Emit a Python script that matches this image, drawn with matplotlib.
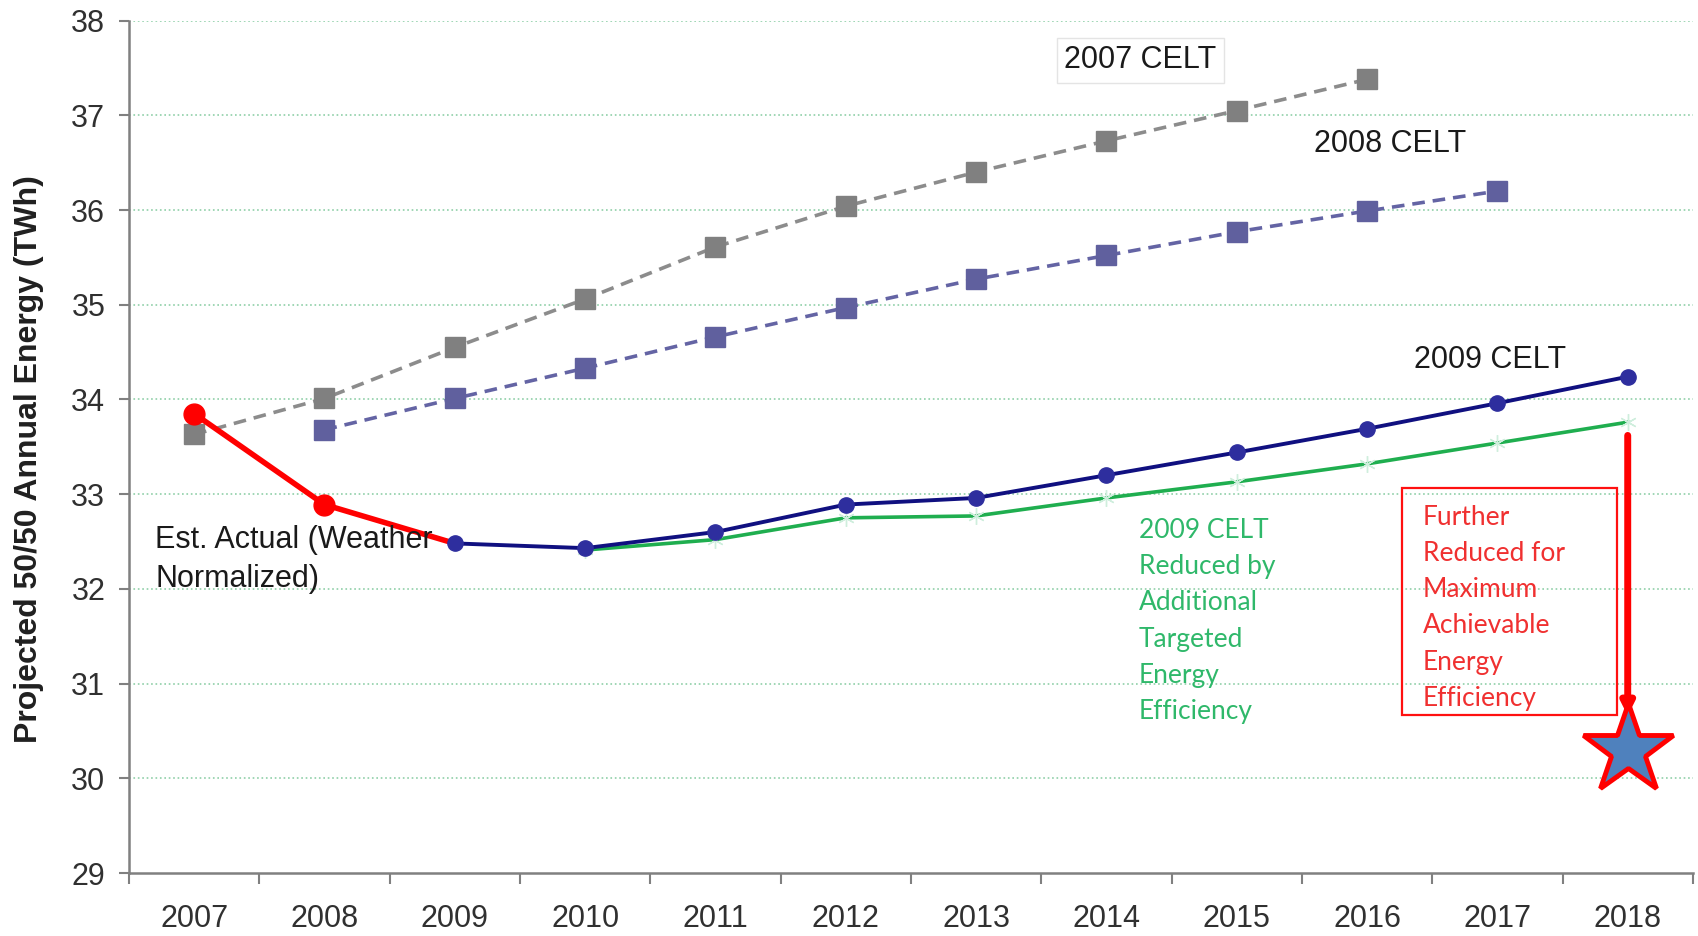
import numpy as np
import matplotlib
matplotlib.use("Agg")
import matplotlib.pyplot as plt
from matplotlib.patches import Rectangle

# Data
years = ["2007", "2008", "2009", "2010", "2011", "2012",
         "2013", "2014", "2015", "2016", "2017", "2018"]

celt2007 = [33.63, 34.01, 34.55, 35.06, 35.61, 36.04, 36.40, 36.73, 37.05, 37.38]
celt2008 = [33.68, 34.01, 34.33, 34.66, 34.97, 35.27, 35.52, 35.77, 35.99, 36.20]
celt2009 = [32.48, 32.43, 32.60, 32.89, 32.96, 33.20, 33.44, 33.69, 33.96, 34.24]
celt2009_ee = [32.41, 32.52, 32.75, 32.77, 32.96, 33.13, 33.32, 33.54, 33.76]
est_actual = [33.85, 32.89, 32.48]
max_ee_2018 = 30.30

x = np.arange(len(years))

plt.rcParams['font.family'] = ['Liberation Sans', 'DejaVu Sans']

fig = plt.figure(figsize=(16.99, 9.36), dpi=100)
ax = fig.add_axes([0.0759, 0.0673, 0.9205, 0.9107])

# grid
for yv in range(30, 39):
    ax.axhline(yv, color='#8fcfa8', linestyle=':', linewidth=1.2, zorder=0)

# series
ax.plot(x[0:10], celt2007, color='#8c8c8c', linestyle=(0, (3.5, 2.2)), linewidth=2.6,
        marker='s', markersize=15, markerfacecolor='#808080', markeredgecolor='#808080', zorder=3)
ax.plot(x[1:11], celt2008, color='#6464a4', linestyle=(0, (3.5, 2.2)), linewidth=2.6,
        marker='s', markersize=15, markerfacecolor='#60609e', markeredgecolor='#60609e', zorder=3)
ax.plot(x[3:12], celt2009_ee, color='#1fae4f', linewidth=2.6,
        marker=(6, 2, 0), markersize=12, markeredgecolor='#cfeedd', markeredgewidth=1,
        zorder=4)
ax.plot(x[0:3], est_actual, color='#ff0000', linewidth=4, markevery=[0, 1],
        marker='o', markersize=15, markerfacecolor='#ff0000', markeredgecolor='#ff0000', zorder=5)
ax.plot(x[2:12], celt2009, color='#101080', linewidth=2.8,
        marker='o', markersize=11, markerfacecolor='#2e2e9e', markeredgecolor='#2e2e9e', zorder=6)

# star for maximum achievable EE
ax.plot([x[11]], [max_ee_2018], marker='*', markersize=68, markerfacecolor='#4f81bd',
        markeredgecolor='#ff0000', markeredgewidth=3.5, linestyle='none', zorder=7)

# arrow down to the star
ax.annotate('', xy=(x[11], 30.66), xytext=(x[11], 33.62),
            arrowprops=dict(arrowstyle='-|>', color='#ff0000', lw=5,
                            mutation_scale=18, shrinkA=0, shrinkB=0), zorder=6)

# red box
ax.add_patch(Rectangle((9.27, 30.67), 1.65, 2.40, fill=False, edgecolor='#ff1010',
                       linewidth=1.6, zorder=5))

# labels
ax.text(7.26, 37.58, "2007 CELT", fontsize=22, ha='center', va='center', color='#1a1a1a',
        bbox=dict(boxstyle='square,pad=0.25', facecolor='white', edgecolor='#e4e4e4'), zorder=8)
ax.text(9.18, 36.70, "2008 CELT", fontsize=22, ha='center', va='center', color='#1a1a1a')
ax.text(9.94, 34.42, "2009 CELT", fontsize=22, ha='center', va='center', color='#1a1a1a')
ax.text(-0.30, 32.31, "Est. Actual (Weather\nNormalized)", fontsize=22, ha='left', va='center',
        color='#1a1a1a', linespacing=1.35, zorder=5)

ax.text(7.25, 31.66, "2009 CELT\nReduced by\nAdditional\nTargeted\nEnergy\nEfficiency",
        fontsize=19, family=['Lato', 'DejaVu Sans'], color='#2fb86a', ha='left', va='center',
        linespacing=1.56, zorder=8)
ax.text(9.43, 31.80, "Further\nReduced for\nMaximum\nAchievable\nEnergy\nEfficiency",
        fontsize=19, family=['Lato', 'DejaVu Sans'], color='#f03030', ha='left', va='center',
        linespacing=1.56, zorder=8)

# axes styling
ax.set_xlim(-0.5, 11.5)
ax.set_ylim(29, 38)
ax.set_yticks(range(29, 39))
ax.tick_params(axis='y', labelsize=22, length=7, width=1.5, color='#808080', pad=10,
               labelcolor='#303030')
ax.set_xticks(x)
ax.set_xticklabels(years)
ax.tick_params(axis='x', which='major', labelsize=22, length=0, pad=22, labelcolor='#303030')
ax.set_xticks(np.arange(-0.5, 12, 1), minor=True)
ax.tick_params(axis='x', which='minor', length=8, width=1.5, color='#808080')

for side in ['top', 'right']:
    ax.spines[side].set_visible(False)
for side in ['left', 'bottom']:
    ax.spines[side].set_color('#808080')
    ax.spines[side].set_linewidth(1.8)

fig.text(29 / 1699, 0.5096, "Projected 50/50 Annual Energy (TWh)", rotation=90,
         fontsize=23, fontweight='bold', ha='center', va='center', color='#202020')

fig.savefig("out.png", dpi=100)
